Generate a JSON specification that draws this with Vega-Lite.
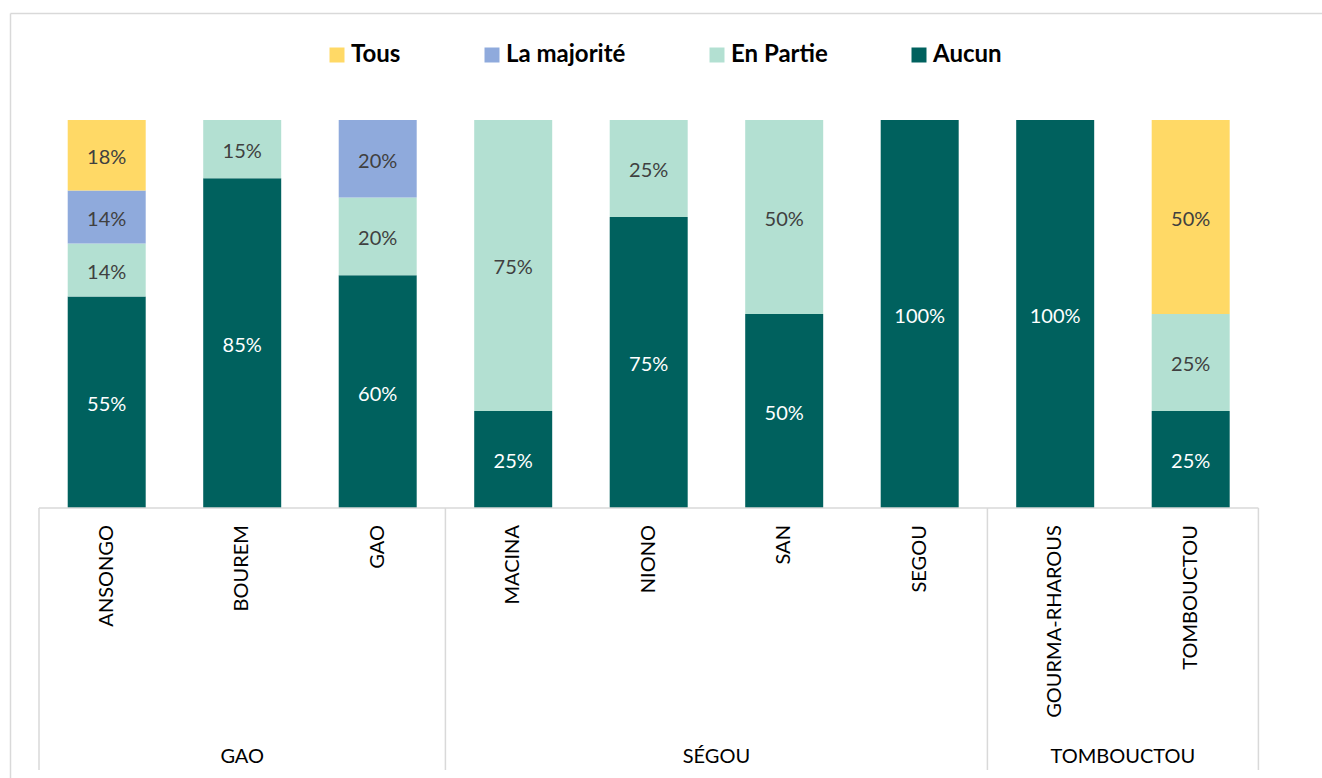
{
  "$schema": "https://vega.github.io/schema/vega-lite/v6.json",
  "width": 1312,
  "height": 765,
  "autosize": {"type": "none"},
  "padding": {"left": 10, "top": 13, "right": 0, "bottom": 0},
  "background": "white",
  "config": {"view": {"stroke": null}, "font": "Lato"},
  "datasets": {
    "resp": [
      {"commune": "ANSONGO", "cat": "Aucun", "pct": 0.5454},
      {"commune": "ANSONGO", "cat": "En Partie", "pct": 0.1364},
      {"commune": "ANSONGO", "cat": "La majorité", "pct": 0.1364},
      {"commune": "ANSONGO", "cat": "Tous", "pct": 0.1818},
      {"commune": "BOUREM", "cat": "Aucun", "pct": 0.85},
      {"commune": "BOUREM", "cat": "En Partie", "pct": 0.15},
      {"commune": "GAO", "cat": "Aucun", "pct": 0.6},
      {"commune": "GAO", "cat": "En Partie", "pct": 0.2},
      {"commune": "GAO", "cat": "La majorité", "pct": 0.2},
      {"commune": "MACINA", "cat": "Aucun", "pct": 0.25},
      {"commune": "MACINA", "cat": "En Partie", "pct": 0.75},
      {"commune": "NIONO", "cat": "Aucun", "pct": 0.75},
      {"commune": "NIONO", "cat": "En Partie", "pct": 0.25},
      {"commune": "SAN", "cat": "Aucun", "pct": 0.5},
      {"commune": "SAN", "cat": "En Partie", "pct": 0.5},
      {"commune": "SEGOU", "cat": "Aucun", "pct": 1.0},
      {"commune": "GOURMA-RHAROUS", "cat": "Aucun", "pct": 1.0},
      {"commune": "TOMBOUCTOU", "cat": "Aucun", "pct": 0.25},
      {"commune": "TOMBOUCTOU", "cat": "En Partie", "pct": 0.25},
      {"commune": "TOMBOUCTOU", "cat": "Tous", "pct": 0.5}
    ],
    "communes": [
      {"commune": "ANSONGO", "region": "GAO"},
      {"commune": "BOUREM", "region": "GAO"},
      {"commune": "GAO", "region": "GAO"},
      {"commune": "MACINA", "region": "SÉGOU"},
      {"commune": "NIONO", "region": "SÉGOU"},
      {"commune": "SAN", "region": "SÉGOU"},
      {"commune": "SEGOU", "region": "SÉGOU"},
      {"commune": "GOURMA-RHAROUS", "region": "TOMBOUCTOU"},
      {"commune": "TOMBOUCTOU", "region": "TOMBOUCTOU"}
    ]
  },
  "layer": [
    {
      "data": {"name": "resp"},
      "mark": {"type": "bar"},
      "encoding": {
        "x": {
          "field": "commune", "type": "nominal",
          "scale": {
            "type": "band",
            "domain": ["ANSONGO", "BOUREM", "GAO", "MACINA", "NIONO", "SAN", "SEGOU", "GOURMA-RHAROUS", "TOMBOUCTOU"],
            "paddingInner": 0.4244, "paddingOuter": 0.5536, "align": 0.3847, "round": false
          },
          "axis": {"orient": "top", "domain": true, "domainColor": "#d9d9d9", "domainWidth": 1.5, "labels": false, "ticks": false, "title": null, "grid": false}
        },
        "y": {
          "field": "pct", "type": "quantitative", "stack": "zero",
          "scale": {"domain": [-0.69588, 1.27577], "nice": false, "zero": false},
          "axis": {"orient": "left", "domain": true, "domainColor": "#d9d9d9", "domainWidth": 1.5, "labels": false, "ticks": false, "title": null, "grid": false}
        },
        "color": {
          "field": "cat", "type": "nominal",
          "scale": {"domain": ["Tous", "La majorité", "En Partie", "Aucun"], "range": ["#FFD966", "#8FAADC", "#B3E0D2", "#00615E"]},
          "legend": {
            "orient": "none", "legendX": 315, "legendY": 30, "direction": "horizontal", "columns": 4,
            "title": null, "padding": 0, "symbolType": "square", "symbolSize": 225, "symbolStrokeWidth": 0,
            "labelFont": "Lato", "labelFontWeight": "bold", "labelFontSize": 24, "labelColor": "#000000",
            "columnPadding": 79, "labelOffset": 2
          }
        },
        "order": {"field": "cat", "sort": "ascending"}
      }
    },
    {
      "data": {"name": "resp"},
      "mark": {"type": "text", "fontSize": 20, "baseline": "middle", "align": "center", "font": "Lato", "dy": 3},
      "encoding": {
        "x": {"field": "commune", "type": "nominal"},
        "y": {"field": "pct", "type": "quantitative", "stack": "zero", "bandPosition": 0.5},
        "detail": {"field": "cat", "type": "nominal"},
        "order": {"field": "cat", "sort": "ascending"},
        "text": {"field": "pct", "type": "quantitative", "format": ".0%"},
        "color": {"condition": {"test": "datum.cat === 'Aucun'", "value": "#ffffff"}, "value": "#404040"}
      }
    },
    {
      "data": {"values": [{"commune": "ANSONGO", "fin": "TOMBOUCTOU"}]},
      "mark": {"type": "rule", "color": "#d9d9d9", "strokeWidth": 1.5},
      "encoding": {
        "x": {"field": "commune", "type": "nominal", "bandPosition": -0.3682},
        "x2": {"field": "fin", "bandPosition": 1.3682},
        "y": {"datum": 0, "type": "quantitative"}
      }
    },
    {
      "data": {"values": [{"commune": "ANSONGO"}]},
      "mark": {"type": "rule", "color": "#d9d9d9", "strokeWidth": 1.5},
      "encoding": {
        "x": {"field": "commune", "type": "nominal", "bandPosition": -0.3682},
        "y": {"datum": 0, "type": "quantitative"},
        "y2": {"datum": -0.675}
      }
    },
    {
      "data": {"values": [{"commune": "GAO"}, {"commune": "SEGOU"}, {"commune": "TOMBOUCTOU"}]},
      "mark": {"type": "rule", "color": "#d9d9d9", "strokeWidth": 1.5},
      "encoding": {
        "x": {"field": "commune", "type": "nominal", "bandPosition": 1.3682},
        "y": {"datum": 0, "type": "quantitative"},
        "y2": {"datum": -0.675}
      }
    },
    {
      "data": {"name": "communes"},
      "mark": {"type": "text", "angle": 270, "align": "right", "baseline": "middle", "fontSize": 20, "font": "Lato", "color": "#000000"},
      "encoding": {
        "x": {"field": "commune", "type": "nominal"},
        "y": {"datum": -0.044, "type": "quantitative"},
        "text": {"field": "commune", "type": "nominal"}
      }
    },
    {
      "data": {"values": [{"commune": "BOUREM", "region": "GAO"}]},
      "mark": {"type": "text", "align": "center", "baseline": "middle", "fontSize": 20, "font": "Lato", "color": "#000000"},
      "encoding": {
        "x": {"field": "commune", "type": "nominal", "bandPosition": 0.5},
        "y": {"datum": -0.642, "type": "quantitative"},
        "text": {"field": "region", "type": "nominal"}
      }
    },
    {
      "data": {"values": [{"commune": "NIONO", "region": "SÉGOU"}, {"commune": "GOURMA-RHAROUS", "region": "TOMBOUCTOU"}]},
      "mark": {"type": "text", "align": "center", "baseline": "middle", "fontSize": 20, "font": "Lato", "color": "#000000"},
      "encoding": {
        "x": {"field": "commune", "type": "nominal", "bandPosition": 1.3682},
        "y": {"datum": -0.642, "type": "quantitative"},
        "text": {"field": "region", "type": "nominal"}
      }
    }
  ]
}
